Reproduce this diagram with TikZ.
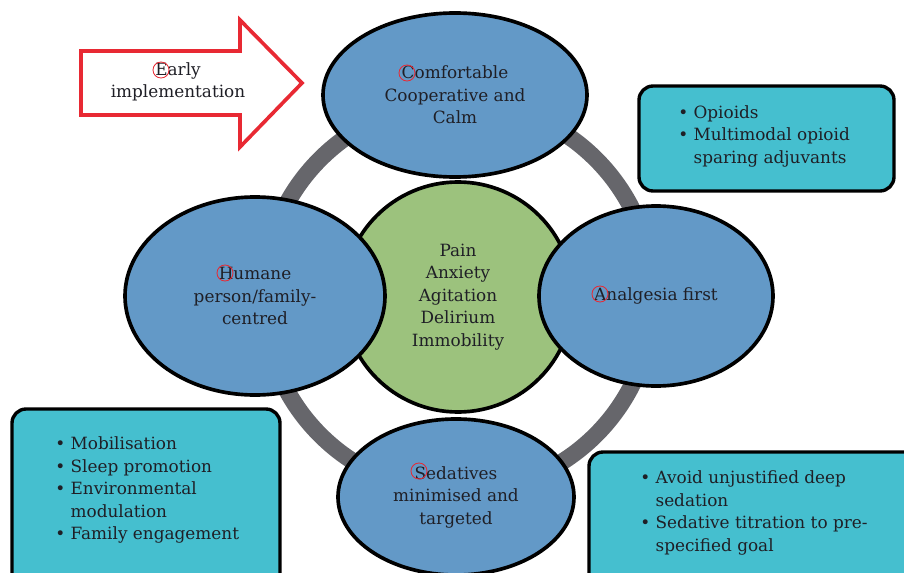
\documentclass[tikz,border=0pt]{standalone}
\usepackage{fontspec}
\setmainfont{DejaVu Serif}
\usepackage{tikz}
\usetikzlibrary{shapes.geometric}
\definecolor{ringgray}{rgb}{0.40,0.40,0.42}
\definecolor{ovalblue}{rgb}{0.39,0.60,0.78}
\definecolor{midgreen}{rgb}{0.61,0.76,0.49}
\definecolor{boxcyan}{rgb}{0.27,0.75,0.81}
\definecolor{arrowred}{rgb}{0.91,0.16,0.20}
\definecolor{inkgray}{rgb}{0.12,0.12,0.15}
\newlength{\px}
\setlength{\px}{0.025cm}
\newcommand{\itm}{\textbullet~}
\newcommand{\hang}{\hphantom{\textbullet~}}
\tikzset{oval/.style={ellipse, draw=black, line width=2.6pt, fill=ovalblue,
            inner sep=0pt, align=center, text=inkgray,
            font=\fontsize{12}{16}\selectfont},
         infobox/.style={draw=black, line width=2.4pt, fill=boxcyan, rounded corners=10pt},
         bullets/.style={align=left, text=inkgray, inner sep=0pt,
            font=\fontsize{12}{16}\selectfont},
         flag/.style={draw=arrowred, line width=0.6pt}
}
\begin{document}
\begin{tikzpicture}[x=0.025cm, y=-0.025cm]
\useasboundingbox (0,0) rectangle (904,573);
\clip (0,0) rectangle (904,573);
\coordinate (O) at (458,297);
\coordinate (T) at (455,95);
\coordinate (L) at (255,296);
\coordinate (R) at (656,296);
\coordinate (B) at (456,497);
% ring behind everything
\draw[ringgray, line width=12pt] (O) circle (195);
\node[circle, draw=black, line width=2.6pt, fill=midgreen, minimum size=230\px, inner sep=0pt,
      align=center, text=inkgray, font=\fontsize{12}{16}\selectfont] (core) at (O)
      {Pain\\Anxiety\\Agitation\\Delirium\\Immobility};
\node[oval, minimum width=264\px, minimum height=164\px] (calm) at (T)
      {Comfortable\\Cooperative and\\Calm};
\node[oval, minimum width=260\px, minimum height=198\px] (humane) at (L)
      {Humane\\person/family-\\centred};
\node[oval, minimum width=234\px, minimum height=180\px] (analgesia) at (R)
      {Analgesia first};
\node[oval, minimum width=236\px, minimum height=156\px] (sedatives) at (B)
      {Sedatives\\minimised and\\targeted};
% early arrow
\draw[arrowred, line width=2.6pt, fill=white] (81,51) -- (240,51) -- (240,20) -- (302,83)
      -- (240,147) -- (240,115) -- (81,115) -- cycle;
\node[align=center, text=inkgray, font=\fontsize{12}{16}\selectfont] (early) at (178,82)
      {Early\\implementation};
% side boxes
\draw[infobox] (639,86) rectangle (894,191);
\draw[infobox] (12,409) rectangle (280,600);
\draw[infobox] (589,452) rectangle (920,600);
\node[bullets, anchor=west] (opioids) at (678,136)
      {\itm Opioids\\\itm Multimodal opioid\\\hang sparing adjuvants};
\node[bullets, anchor=west] (mobil) at (55,490)
      {\itm Mobilisation\\\itm Sleep promotion\\\itm Environmental\\\hang modulation\\\itm Family engagement};
\node[bullets, anchor=west] (avoid) at (640,513)
      {\itm Avoid unjustified deep\\\hang sedation\\\itm Sedative titration to pre-\\\hang specified goal};
% red marks on first letters
\draw[flag] (161,70) circle (8);
\draw[flag] (407,73) circle (8);
\draw[flag] (225,273) circle (8);
\draw[flag] (600,294) circle (8);
\draw[flag] (419,471) circle (8);
\end{tikzpicture}
\end{document}
